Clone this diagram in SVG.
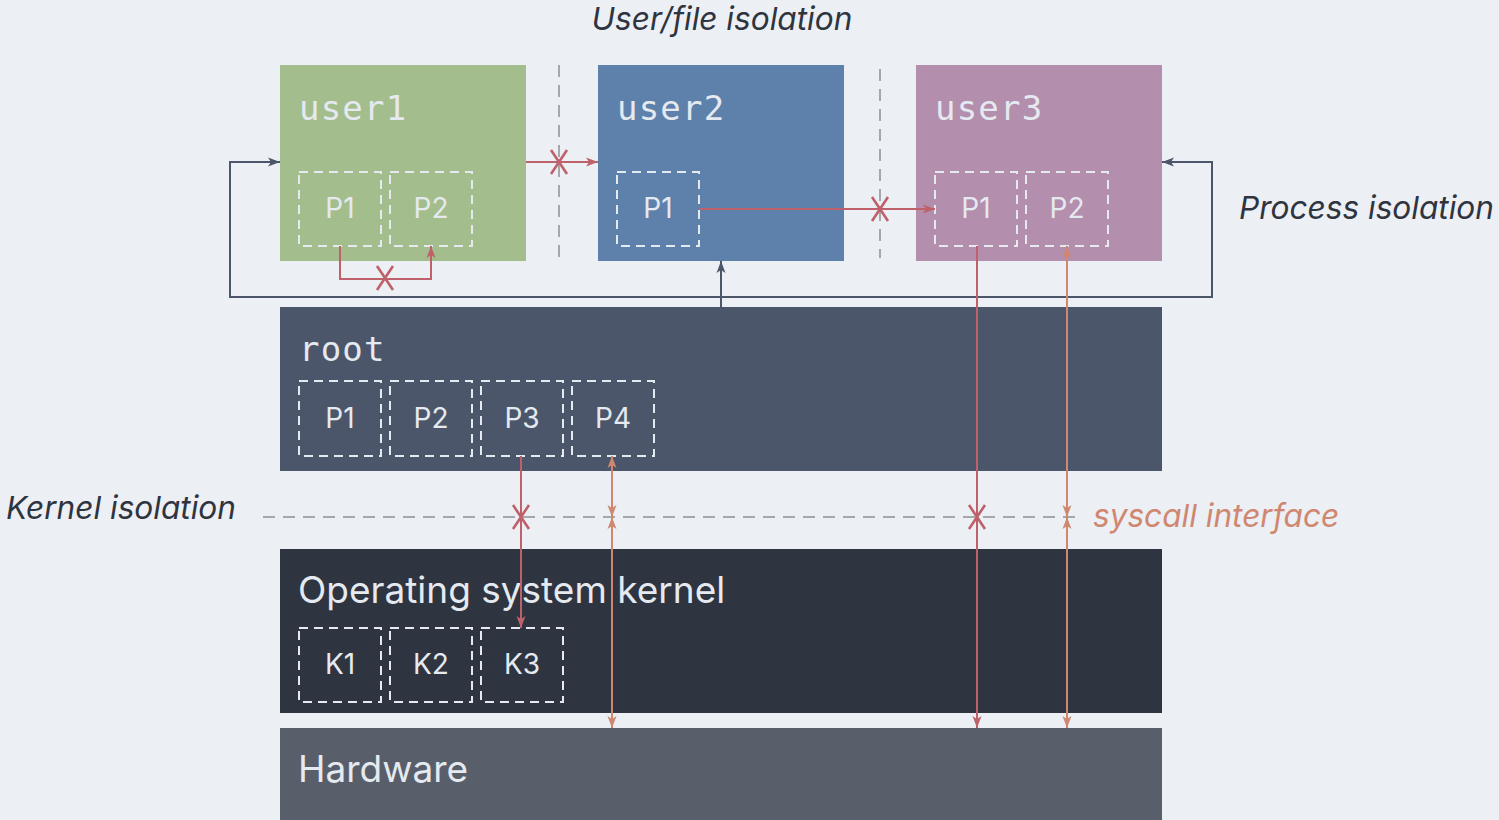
<svg xmlns="http://www.w3.org/2000/svg" width="1499" height="820" viewBox="0 0 1499 820">
<style>
.mono{font-family:"DejaVu Sans Mono","Liberation Mono",monospace;font-size:34px;letter-spacing:1.2px;fill:#E5E9F0}
.sans{font-family:Inter,"Noto Sans","Liberation Sans",sans-serif;fill:#E5E9F0}
.plab{font-size:28px;text-anchor:middle}
.big{font-size:37px}
.ital{font-family:Inter,"Noto Sans","Liberation Sans",sans-serif;font-style:italic;font-size:31.6px;fill:#2E3440}
.pbox{fill:none;stroke:#E5E9F0;stroke-width:2;stroke-dasharray:9 6}
.sep{stroke:#A5A7AA;stroke-width:2;stroke-dasharray:12 8;fill:none}
.red{stroke:#BF616A;stroke-width:2;fill:none}
.org{stroke:#D08770;stroke-width:2;fill:none}
.dark{stroke:#4C566A;stroke-width:2;fill:none}
.xm{stroke:#BF616A;stroke-width:2.6;fill:none}
</style>
<defs>
<marker id="ar" viewBox="0 0 12 10" refX="12" refY="5" markerWidth="12" markerHeight="10" markerUnits="userSpaceOnUse" orient="auto-start-reverse"><path d="M0,0.5 L12,5 L0,9.5 L3,5 z" fill="#BF616A"/></marker>
<marker id="ao" viewBox="0 0 12 10" refX="12" refY="5" markerWidth="12" markerHeight="10" markerUnits="userSpaceOnUse" orient="auto-start-reverse"><path d="M0,0.5 L12,5 L0,9.5 L3,5 z" fill="#D08770"/></marker>
<marker id="ad" viewBox="0 0 12 10" refX="12" refY="5" markerWidth="12" markerHeight="10" markerUnits="userSpaceOnUse" orient="auto-start-reverse"><path d="M0,0.5 L12,5 L0,9.5 L3,5 z" fill="#4C566A"/></marker>
</defs>
<rect width="1499" height="820" fill="#ECEFF4"/>

<text class="ital" x="722" y="30" text-anchor="middle">User/file isolation</text>
<text class="ital" x="1239" y="219">Process isolation</text>
<text class="ital" x="6" y="519">Kernel isolation</text>
<text class="ital" x="1093" y="527" style="fill:#D08770">syscall interface</text>

<g id="separators">
<line class="sep" x1="559" y1="65" x2="559" y2="258"/>
<line class="sep" x1="880" y1="69" x2="880" y2="258"/>
<line class="sep" x1="263" y1="517" x2="1083" y2="517"/>
</g>

<g id="user1">
<rect x="280" y="65" width="246" height="196" fill="#A3BE8C"/>
<text class="mono" x="299" y="120">user1</text>
<rect class="pbox" x="299" y="172" width="82" height="74"/>
<text class="sans plab" x="340" y="218">P1</text>
<rect class="pbox" x="390" y="172" width="82" height="74"/>
<text class="sans plab" x="431" y="218">P2</text>
</g>
<g id="user2">
<rect x="598" y="65" width="246" height="196" fill="#5E81AC"/>
<text class="mono" x="617" y="120">user2</text>
<rect class="pbox" x="617" y="172" width="82" height="74"/>
<text class="sans plab" x="658" y="218">P1</text>
</g>
<g id="user3">
<rect x="916" y="65" width="246" height="196" fill="#B48EAD"/>
<text class="mono" x="935" y="120">user3</text>
<rect class="pbox" x="935" y="172" width="82" height="74"/>
<text class="sans plab" x="976" y="218">P1</text>
<rect class="pbox" x="1026" y="172" width="82" height="74"/>
<text class="sans plab" x="1067" y="218">P2</text>
</g>
<g id="root">
<rect x="280" y="307" width="882" height="164" fill="#4C566A"/>
<text class="mono" x="299" y="361">root</text>
<rect class="pbox" x="299" y="381" width="82" height="75"/>
<text class="sans plab" x="340" y="428">P1</text>
<rect class="pbox" x="390" y="381" width="82" height="75"/>
<text class="sans plab" x="431" y="428">P2</text>
<rect class="pbox" x="481" y="381" width="82" height="75"/>
<text class="sans plab" x="522" y="428">P3</text>
<rect class="pbox" x="572" y="381" width="82" height="75"/>
<text class="sans plab" x="613" y="428">P4</text>
</g>
<g id="kernel">
<rect x="280" y="549" width="882" height="164" fill="#2E3440"/>
<text class="sans big" x="298" y="603">Operating system kernel</text>
<rect class="pbox" x="299" y="628" width="82" height="74"/>
<text class="sans plab" x="340" y="674">K1</text>
<rect class="pbox" x="390" y="628" width="82" height="74"/>
<text class="sans plab" x="431" y="674">K2</text>
<rect class="pbox" x="481" y="628" width="82" height="74"/>
<text class="sans plab" x="522" y="674">K3</text>
</g>
<g id="hardware">
<rect x="280" y="728" width="882" height="92" fill="#595F6A"/>
<text class="sans big" x="298" y="782">Hardware</text>
</g>

<g id="connectors">
<path class="dark" d="M721,307 V261" marker-end="url(#ad)"/>
<path class="dark" d="M721,297 H230 V162 H280" marker-end="url(#ad)"/>
<path class="dark" d="M721,297 H1212 V162 H1162" marker-end="url(#ad)"/>
<path class="red" d="M526,162 H598" marker-end="url(#ar)"/>
<path class="red" d="M340,246 V279 H431 V246" marker-end="url(#ar)"/>
<path class="red" d="M699,209 H935" marker-end="url(#ar)"/>
<path class="red" d="M521,456 V628" marker-end="url(#ar)"/>
<path class="red" d="M977,246 V728" marker-end="url(#ar)"/>
<path class="org" d="M612,456 V517" marker-start="url(#ao)" marker-end="url(#ao)"/>
<path class="org" d="M612,517 V728" marker-start="url(#ao)" marker-end="url(#ao)"/>
<path class="org" d="M1067,246 V517" marker-start="url(#ao)" marker-end="url(#ao)"/>
<path class="org" d="M1067,517 V728" marker-start="url(#ao)" marker-end="url(#ao)"/>
<path class="xm" d="M551,150 L567,174 M567,150 L551,174"/>
<path class="xm" d="M377,266 L393,290 M393,266 L377,290"/>
<path class="xm" d="M872,197 L888,221 M888,197 L872,221"/>
<path class="xm" d="M513,505 L529,529 M529,505 L513,529"/>
<path class="xm" d="M969,505 L985,529 M985,505 L969,529"/>
</g>
</svg>
